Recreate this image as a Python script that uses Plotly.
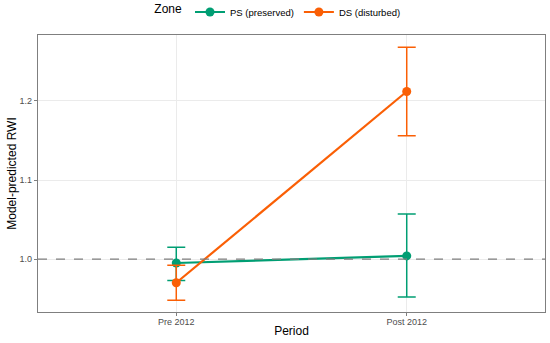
import plotly.graph_objects as go

periods = ["Pre 2012", "Post 2012"]
ps_mean = [0.995, 1.004]
ps_low = [0.973, 0.952]
ps_high = [1.015, 1.057]
ds_mean = [0.970, 1.212]
ds_low = [0.948, 1.156]
ds_high = [0.992, 1.268]

green = "#009E73"
orange = "#FA5F05"

fig = go.Figure()

def add_series(name, mean, low, high, color):
    fig.add_trace(go.Scatter(
        x=periods, y=mean, name=name, mode="lines+markers",
        line=dict(color=color, width=2.2),
        marker=dict(color=color, size=9),
        error_y=dict(type="data", symmetric=False,
                     array=[h - m for h, m in zip(high, mean)],
                     arrayminus=[m - l for m, l in zip(mean, low)],
                     color=color, thickness=1.5, width=9),
    ))

add_series("PS (preserved)", ps_mean, ps_low, ps_high, green)
add_series("DS (disturbed)", ds_mean, ds_low, ds_high, orange)

fig.add_shape(type="line", xref="paper", yref="y", x0=0, x1=1, y0=1.0, y1=1.0,
              line=dict(color="#7F7F7F", width=1.2, dash="dash"), layer="above")

fig.update_layout(
    width=550, height=343,
    margin=dict(l=38, r=5, t=35, b=31, autoexpand=False),
    paper_bgcolor="white", plot_bgcolor="white",
    font=dict(family="Liberation Sans, Arial, sans-serif", color="black"),
    showlegend=True,
    legend=dict(orientation="h", x=0.475, xanchor="center", y=1 - 12 / 343, yanchor="middle",
                yref="container", bgcolor="rgba(0,0,0,0)",
                title=dict(text="Zone", font=dict(size=12)),
                font=dict(size=9.5), itemwidth=30, tracegroupgap=0),
    xaxis=dict(type="category", range=[-0.6, 1.6], showgrid=True, gridcolor="#EBEBEB",
               gridwidth=1, showline=True, linecolor="#7F7F7F", linewidth=1.2, mirror=True,
               ticks="outside", ticklen=3, tickcolor="#7F7F7F", automargin=False,
               tickfont=dict(size=9, color="#4D4D4D"), ticklabelstandoff=-2,
               title=dict(text="Period", font=dict(size=12), standoff=0), zeroline=False),
    yaxis=dict(range=[0.933, 1.2835], tickvals=[1.0, 1.1, 1.2], ticktext=["1.0", "1.1", "1.2"],
               showgrid=True, gridcolor="#EBEBEB", gridwidth=1,
               showline=True, linecolor="#7F7F7F", linewidth=1.2, mirror=True,
               ticks="outside", ticklen=3, tickcolor="#7F7F7F", automargin=False,
               tickfont=dict(size=9, color="#4D4D4D"),
               title=dict(text="Model-predicted RWI", font=dict(size=12), standoff=0),
               zeroline=False),
)

fig.write_html("out.html", config={"displayModeBar": False},
               post_script="document.body.style.margin='0';")
